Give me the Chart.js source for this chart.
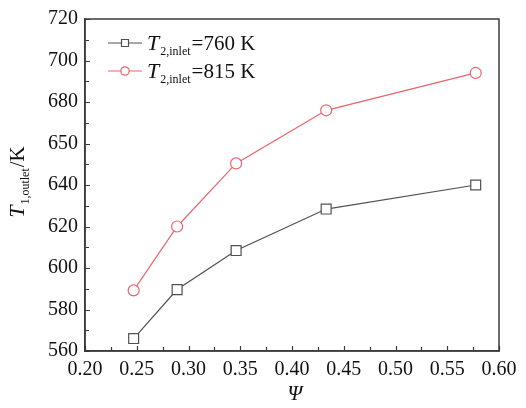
<!DOCTYPE html>
<html>
<head>
<meta charset="utf-8">
<script src="https://cdn.jsdelivr.net/npm/chart.js@4.4.1/dist/chart.umd.min.js"></script>
<style>
  html, body { margin: 0; padding: 0; background: #fff; }
  #wrap { width: 526px; height: 408px; }
</style>
</head>
<body>
<div id="wrap"><canvas id="chartTemp"></canvas></div>
<script>
// Datos
const psi = [0.247, 0.289, 0.346, 0.433, 0.5775];
const t760 = [566, 589.6, 608.4, 628.4, 640];
const t815 = [589.2, 620, 650.4, 676, 694];

// Etiquetas de los ejes tal como aparecen
const yTickValues = [560, 580, 600, 620, 640, 660, 680, 700, 720];
const yTickLabels = ['560', '580', '600', '620', '640', '650', '680', '700', '720'];
const xTickValues = [0.20, 0.25, 0.30, 0.35, 0.40, 0.45, 0.50, 0.55, 0.60];
const xTickLabels = ['0.20', '0.25', '0.30', '0.35', '0.40', '0.45', '0.50', '0.55', '0.60'];

const seriesNames = ['=760 K', '=815 K'];
const seriesColors = ['#505050', '#ea646c'];

const SERIF = '"Liberation Serif", "Times New Roman", serif';
const AXIS_COLOR = '#3a3a3a';

function toPoints(xs, ys) {
    return xs.map(function(x, i) { return { x: x, y: ys[i] }; });
}

// Marco, ticks hacia dentro, leyenda y titulos con subindices
const decoPlugin = {
    id: 'deco',
    afterDraw: function(chart) {
        const ctx = chart.ctx;
        const area = chart.chartArea;
        const xs = chart.scales.x;
        const ys = chart.scales.y;
        ctx.save();

        // marco
        ctx.strokeStyle = AXIS_COLOR;
        ctx.lineWidth = 1.5;
        ctx.strokeRect(area.left, area.top, area.right - area.left, area.bottom - area.top);

        // ticks mayores y menores (hacia dentro)
        ctx.lineWidth = 1.2;
        ctx.beginPath();
        for (let v = 0.2; v <= 0.6001; v += 0.025) {
            const px = Math.round(xs.getPixelForValue(v)) + 0.5;
            const major = Math.abs(v * 20 - Math.round(v * 20)) < 1e-6;
            const len = major ? 5 : 4;
            ctx.moveTo(px, area.bottom);
            ctx.lineTo(px, area.bottom - len);
        }
        for (let v = 560; v <= 720; v += 10) {
            const py = Math.round(ys.getPixelForValue(v)) + 0.5;
            const len = (v % 20 === 0) ? 5 : 4;
            ctx.moveTo(area.left, py);
            ctx.lineTo(area.left + len, py);
        }
        ctx.stroke();

        // leyenda
        const rows = [43, 71];
        chart.data.datasets.forEach(function(ds, i) {
            const y = rows[i];
            ctx.strokeStyle = ds.borderColor;
            ctx.lineWidth = 1.2;
            ctx.beginPath();
            ctx.moveTo(108, y);
            ctx.lineTo(142, y);
            ctx.stroke();
            ctx.fillStyle = '#fff';
            ctx.beginPath();
            if (ds.pointStyle === 'rect') {
                ctx.rect(121.5, y - 3.5, 7, 7);
            } else {
                ctx.arc(125, y, 4.2, 0, Math.PI * 2);
            }
            ctx.fill();
            ctx.stroke();

            ctx.fillStyle = '#111';
            ctx.textBaseline = 'alphabetic';
            ctx.textAlign = 'left';
            let x = 147;
            ctx.font = 'italic 22px ' + SERIF;
            ctx.fillText('T', x, y + 7);
            x += ctx.measureText('T').width + 1;
            ctx.font = '12px ' + SERIF;
            ctx.fillText('2,inlet', x, y + 12);
            x += ctx.measureText('2,inlet').width + 1;
            ctx.font = '21px ' + SERIF;
            ctx.fillText(seriesNames[i], x, y + 7);
        });

        // titulo eje Y
        const cy = (area.top + area.bottom) / 2 - 3;
        ctx.translate(24, cy);
        ctx.rotate(-Math.PI / 2);
        ctx.fillStyle = '#111';
        ctx.font = 'italic 22px ' + SERIF;
        const wT = ctx.measureText('T').width;
        ctx.font = '12px ' + SERIF;
        const wS = ctx.measureText('1,outlet').width;
        ctx.font = '21px ' + SERIF;
        const wK = ctx.measureText('/K').width;
        let tx = -(wT + wS + wK + 2) / 2;
        ctx.font = 'italic 22px ' + SERIF;
        ctx.fillText('T', tx, 0);
        tx += wT + 1;
        ctx.font = '12px ' + SERIF;
        ctx.fillText('1,outlet', tx, 5);
        tx += wS + 1;
        ctx.font = '21px ' + SERIF;
        ctx.fillText('/K', tx, 0);
        ctx.setTransform(1, 0, 0, 1, 0, 0);

        // titulo eje X
        ctx.font = 'italic 21px ' + SERIF;
        ctx.textAlign = 'center';
        ctx.fillText('\u03A8', (area.left + area.right) / 2 + 3, 400);

        ctx.restore();
    }
};

const ctx = document.getElementById('chartTemp');
new Chart(ctx, {
    type: 'scatter',
    data: {
        datasets: [{
            label: seriesNames[0],
            data: toPoints(psi, t760),
            showLine: true,
            borderColor: seriesColors[0],
            backgroundColor: '#fff',
            borderWidth: 1.2,
            pointStyle: 'rect',
            pointRadius: 7,
            pointBorderWidth: 1.2,
            pointBackgroundColor: '#fff'
        }, {
            label: seriesNames[1],
            data: toPoints(psi, t815),
            showLine: true,
            borderColor: seriesColors[1],
            backgroundColor: '#fff',
            borderWidth: 1.2,
            pointStyle: 'circle',
            pointRadius: 5.5,
            pointBorderWidth: 1.2,
            pointBackgroundColor: '#fff'
        }]
    },
    options: {
        responsive: true,
        maintainAspectRatio: false,
        animation: false,
        layout: {
            padding: { top: 17, right: 27, left: 0, bottom: 0 }
        },
        scales: {
            x: {
                type: 'linear',
                min: 0.2,
                max: 0.6,
                afterBuildTicks: function(scale) {
                    scale.ticks = xTickValues.map(function(v) { return { value: v }; });
                },
                afterFit: function(scale) { scale.height = 57; },
                grid: { display: false, drawTicks: false },
                border: { display: true, color: AXIS_COLOR, width: 1.5 },
                ticks: {
                    padding: 7,
                    color: '#111',
                    font: { family: SERIF, size: 20 },
                    maxRotation: 0,
                    callback: function(value, index) { return xTickLabels[index]; }
                }
            },
            y: {
                type: 'linear',
                min: 560,
                max: 720,
                afterBuildTicks: function(scale) {
                    scale.ticks = yTickValues.map(function(v) { return { value: v }; });
                },
                afterFit: function(scale) { scale.width = 85; },
                grid: { display: false, drawTicks: false },
                border: { display: true, color: AXIS_COLOR, width: 1.5 },
                ticks: {
                    padding: 7,
                    color: '#111',
                    font: { family: SERIF, size: 20 },
                    callback: function(value, index) { return yTickLabels[index]; }
                }
            }
        },
        plugins: {
            legend: { display: false },
            tooltip: { enabled: false }
        }
    },
    plugins: [decoPlugin]
});
</script>
</body>
</html>
